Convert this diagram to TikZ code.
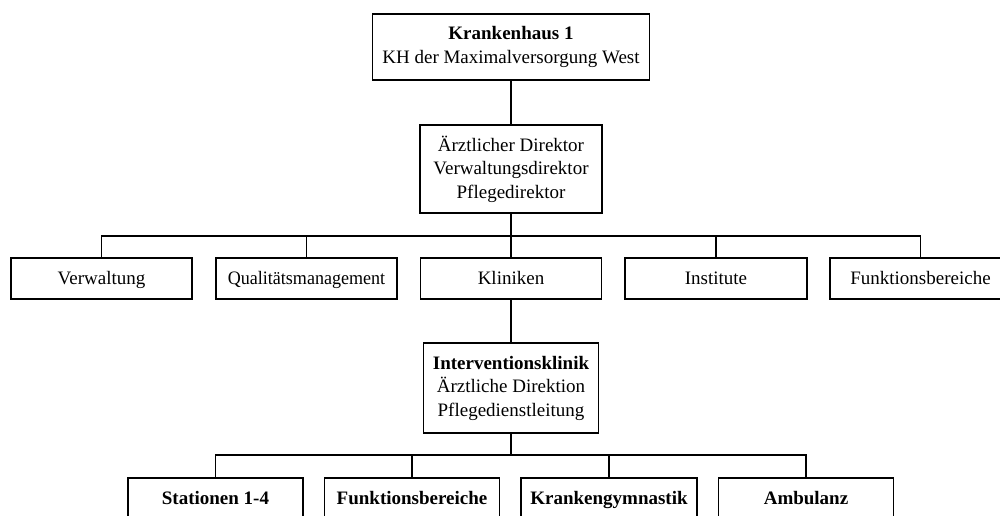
\documentclass[tikz,border=0pt]{standalone}
\usepackage{graphicx}
\usepackage{fontspec}
\setmainfont{Liberation Serif}
\begin{document}
\begin{tikzpicture}[x=1pt,y=-1pt,
  box/.style={draw,line width=1.3pt,inner sep=0pt,align=center,
    font=\fontsize{19}{23.5}\selectfont},
  single/.style={box,text height=12.5pt,text depth=0pt,minimum height=41pt},
  conn/.style={line width=1.3pt}]
\useasboundingbox (0,0) rectangle (1000,515);
\begin{scope}
\clip (0,0) rectangle (1000,515);
\node[box,minimum width=277pt,minimum height=66pt] (kh) at (511,47) {\textbf{Krankenhaus 1}\\KH der Maximalversorgung West};
\node[box,minimum width=182pt,minimum height=88pt] (dir) at (511,169) {Ärztlicher Direktor\\Verwaltungsdirektor\\Pflegedirektor};
\node[single,minimum width=181pt] (verw) at (101.5,278.5) {Verwaltung};
\node[single,minimum width=181pt] (qual) at (306.5,278.5) {\scalebox{0.95}[1]{Qualitätsmanagement}};
\node[single,minimum width=181pt] (klin) at (511,278.5) {Kliniken};
\node[single,minimum width=182pt] (inst) at (716,278.5) {Institute};
\node[single,minimum width=181pt] (funk) at (920.5,278.5) {Funktionsbereiche};
\node[box,minimum width=175pt,minimum height=90pt] (ik) at (511,388) {\textbf{Interventionsklinik}\\Ärztliche Direktion\\Pflegedienstleitung};
\node[single,minimum width=175pt] (st) at (215.5,498.5) {\textbf{Stationen 1-4}};
\node[single,minimum width=175pt] (fb) at (412,498.5) {\textbf{Funktionsbereiche}};
\node[single,minimum width=176pt] (kg) at (609,498.5) {\textbf{Krankengymnastik}};
\node[single,minimum width=175pt] (amb) at (806,498.5) {\textbf{Ambulanz}};
\coordinate (b1) at (511,236);
\coordinate (b2) at (511,455);
\draw[conn] (kh) -- (dir);
\draw[conn] (dir.south) -- (b1);
\draw[conn] (verw.north) |- (b1) -| (funk.north);
\draw[conn] (qual.north) -- (qual.north |- b1);
\draw[conn] (klin.north) -- (klin.north |- b1);
\draw[conn] (inst.north) -- (inst.north |- b1);
\draw[conn] (klin) -- (ik);
\draw[conn] (ik.south) -- (b2);
\draw[conn] (st.north) |- (b2) -| (amb.north);
\draw[conn] (fb.north) -- (fb.north |- b2);
\draw[conn] (kg.north) -- (kg.north |- b2);
\end{scope}
\end{tikzpicture}
\end{document}
